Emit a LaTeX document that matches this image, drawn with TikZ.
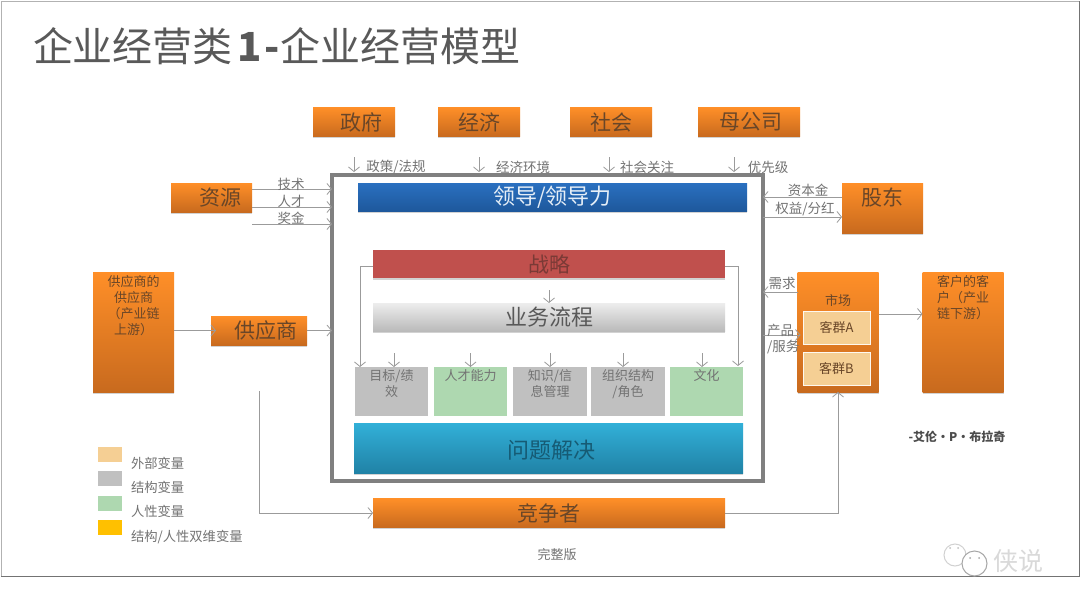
\documentclass[tikz,border=0pt]{standalone}
\usepackage{fontspec}
\setmainfont{Noto Sans CJK SC}
\definecolor{orangetop}{RGB}{255, 143, 40}
\definecolor{orangelow}{RGB}{200, 106, 30}
\definecolor{orangetext}{RGB}{105, 70, 40}
\definecolor{bluetop}{RGB}{42, 112, 192}
\definecolor{bluelow}{RGB}{30, 88, 156}
\definecolor{redfill}{RGB}{192, 80, 77}
\definecolor{redtext}{RGB}{122, 58, 54}
\definecolor{cyantop}{RGB}{50, 176, 216}
\definecolor{cyanlow}{RGB}{32, 130, 166}
\definecolor{structgray}{RGB}{192, 192, 192}
\definecolor{humangreen}{RGB}{174, 216, 176}
\definecolor{externsand}{RGB}{245, 207, 148}
\definecolor{dualgold}{RGB}{255, 192, 0}
\definecolor{labelgray}{RGB}{115, 115, 115}
\definecolor{wiregray}{RGB}{155, 155, 155}
\usetikzlibrary{arrows.meta, shadows}

\begin{document}
\begin{tikzpicture}[
        x=1pt, y=-1pt,
        every node/.style={inner sep=0pt, outer sep=0pt, align=center},
        box/.style={rectangle, minimum width=#1, drop shadow={shadow xshift=0pt, shadow yshift=-1.5pt, fill=black!35, opacity=.5}},
        outer/.style={box=#1, top color=orangetop, bottom color=orangelow, minimum height=29pt, text=orangetext, font=\fontsize{21}{25}\selectfont},
        tall/.style={outer=81pt, minimum height=120pt, font=\fontsize{13}{16}\selectfont, text width=58pt},
        pick/.style={rectangle, minimum width=#1, minimum height=49pt, text=labelgray, font=\fontsize{13}{16}\selectfont, text width=70pt, text height=13pt, text depth=36pt},
        struct/.style={pick=#1, fill=structgray},
        human/.style={pick=#1, fill=humangreen},
        group/.style={rectangle, fill=externsand, draw=white!85!externsand, minimum width=67pt, minimum height=33pt, text=orangetext, font=\fontsize{13}{16}\selectfont},
        swatch/.style={rectangle, minimum width=24pt, minimum height=15pt},
        note/.style={text=labelgray, font=\fontsize{13.5}{16}\selectfont},
        key/.style={text=labelgray, anchor=west, font=\fontsize{13.3}{15}\selectfont},
        line/.style={-{Straight Barb[length=4.5pt, width=11pt]}, wiregray, line width=.8pt}
    ]
        \useasboundingbox (0,0) rectangle (1080,608);
        \fill[white] (0,0) rectangle (1080,608);
        \node[draw=black!55, line width=1pt, minimum width=1078pt, minimum height=575pt] (slide) at (540,288.5) {};
        \draw[black!30, line width=1pt] (slide.south west) |- (slide.north east);

        \node[anchor=west, text=black!65, font=\fontsize{40}{46}\selectfont] (title) at (33,46) {企业经营类\hspace{5pt}\textbf{1\hspace{2pt}-}\hspace{1pt}企业经营模型};

        \node[outer=82pt] (gov) at (354,122) {\hspace*{15pt}政府};
        \node[outer=82pt] (econ) at (479,122) {经济};
        \node[outer=82pt] (soc) at (611,122) {社会};
        \node[outer=102pt] (parent) at (749,122) {\hspace*{4pt}母公司};
        \node[outer=81pt] (res) at (211.5,197.5) {\hspace*{17pt}资源};
        \node[outer=96pt] (sup) at (259,330.5) {\hspace*{14pt}供应商};
        \node[tall, text height=14pt, text depth=106pt] (upstream) at (133.5,332) {供应商的\\供应商\\（产业链\\上游）};
        \node[outer=81pt, minimum height=50pt, text height=22pt, text depth=28pt] (holder) at (882.5,208) {股东};
        \node[tall, text height=33pt, text depth=87pt] (market) at (838,332) {市场};
        \node[tall, text height=14pt, text depth=106pt] (downstream) at (963,332) {客户的客\\户（产业\\链下游）};
        \node[group] (groupa) at (836.5,327.5) {客群A};
        \node[group] (groupb) at (836.5,368.5) {客群B};
        \node[outer=352pt] (rival) at (549,513) {竞争者};

        \node[draw=black!50, line width=3.5pt, minimum width=431pt, minimum height=306pt] (frame) at (547.5,328) {};
        \node[box=389pt, top color=bluetop, bottom color=bluelow, minimum height=28pt, text=white!88!bluetop, font=\fontsize{22}{26}\selectfont] (lead) at (552.5,197) {领导/领导力};
        \node[box=352pt, fill=redfill, minimum height=28pt, text=redtext, font=\fontsize{21}{25}\selectfont] (strat) at (549,264) {战略};
        \node[box=352pt, top color=black!7, bottom color=black!27, minimum height=28pt, text=black!65, font=\fontsize{22}{26}\selectfont] (flow) at (549,317) {业务流程};
        \node[struct=73pt] (goal) at (391.5,391.5) {目标/绩\\效};
        \node[human=73pt] (talent) at (470.5,391.5) {人才能力};
        \node[struct=74pt] (info) at (550,391.5) {知识/信\\息管理};
        \node[struct=74pt] (org) at (628,391.5) {组织结构\\/角色};
        \node[human=73pt] (culture) at (706.5,391.5) {文化};
        \node[box=389pt, top color=cyantop, bottom color=cyanlow, minimum height=50pt, text=cyanlow!70!black, text height=35pt, text depth=15pt, font=\fontsize{22}{26}\selectfont] (solve) at (548.5,448) {\hspace*{5pt}问题解决};

        \coordinate (govin) at (354,157);
        \coordinate (econin) at (479,157);
        \coordinate (socin) at (609,157);
        \coordinate (parentin) at (734,157);
        \coordinate (techin) at (252,189);
        \coordinate (peoplein) at (252,207);
        \coordinate (bonusin) at (252,224);
        \coordinate (rivalin) at (259,391);

        \draw[line] (govin) -- +(0,15);
        \draw[line] (econin) -- +(0,15);
        \draw[line] (socin) -- +(0,15);
        \draw[line] (parentin) -- +(0,15);
        \draw[line] (techin) -- (techin -| frame.west);
        \draw[line] (peoplein) -- (peoplein -| frame.west);
        \draw[line] (bonusin) -- (bonusin -| frame.west);
        \draw[line] (upstream.east |- sup.west) -- ([xshift=5pt]sup.west);
        \draw[line] (sup.east) -- (sup.east -| frame.west);
        \draw[line] (holder.west |- 0,197) -- (frame.east |- 0,197);
        \draw[line] (frame.east |- 0,217) -- (holder.west |- 0,217);
        \draw[line] (market.west |- 0,292) -- (frame.east |- 0,292);
        \draw[line] (frame.east |- 0,335) -- ([xshift=3pt]market.west |- 0,335);
        \draw[line] (market.east |- 0,314) -- (downstream.west |- 0,314);
        \draw[line, shorten <=12pt] (strat.south) -- (flow.north);
        \draw[line] ([yshift=-2pt]strat.west) -- (360,266) -- (360,367);
        \draw[line] ([yshift=-2pt]strat.east) -- (738,266) -- (738,366);
        \draw[line] ([xshift=2.5pt, yshift=14pt]goal.north) -- ([xshift=2.5pt]goal.north);
        \draw[line] ([yshift=14pt]talent.north) -- (talent.north);
        \draw[line] ([yshift=14pt]info.north) -- (info.north);
        \draw[line] ([xshift=-5pt, yshift=14pt]org.north) -- ([xshift=-5pt]org.north);
        \draw[line] ([xshift=-4.5pt, yshift=14pt]culture.north) -- ([xshift=-4.5pt]culture.north);
        \draw[line] (rivalin) |- (rival.west);
        \draw[line] (rival.east) -| (market.south);

        \node[note] (lawtext) at (396,167) {政策/法规};
        \node[note] (econtext) at (523,167) {经济环境};
        \node[note] (soctext) at (647,167) {社会关注};
        \node[note] (parenttext) at (768,167) {优先级};
        \node[note] (techtext) at (291,184) {技术};
        \node[note] (peopletext) at (291,201) {人才};
        \node[note] (bonustext) at (291,218) {奖金};
        \node[note] (capitaltext) at (808,190) {资本金};
        \node[note] (equitytext) at (805,209) {权益/分红};
        \node[note] (demandtext) at (782,283) {需求};
        \node[note, text width=34pt, align=left] (producttext) at (784,339) {产品\\/服务};

        \node[swatch, fill=externsand] (extkey) at (110,454) {};
        \node[swatch, fill=structgray] (structkey) at (110,478) {};
        \node[swatch, fill=humangreen] (humankey) at (110,503) {};
        \node[swatch, fill=dualgold] (dualkey) at (110,527) {};
        \node[key] (exttext) at (131,463) {外部变量};
        \node[key] (structtext) at (131,487) {结构变量};
        \node[key] (humantext) at (131,511) {人性变量};
        \node[key] (dualtext) at (131,537) {结构/人性双维变量};

        \node[text=black!55, font=\fontsize{13}{15}\selectfont] (version) at (557,555) {完整版};
        \node[text=black!70, font=\fontsize{12}{15}\selectfont\bfseries] (author) at (957,437) {-艾伦•P•布拉奇};

        \draw[black!18, line width=1pt] (955,555) circle (11);
        \draw[black!35, fill=white, line width=1pt] (974.5,563.5) circle (12.5);
        \fill[black!25] (950,548) circle (1) (958,548) circle (1);
        \fill[black!35] (970,558) circle (1) (979,558) circle (1);
        \node[text=black!15, font=\fontsize{25}{28}\selectfont] (mark) at (1018,561) {侠说};
    \end{tikzpicture}
\end{document}
